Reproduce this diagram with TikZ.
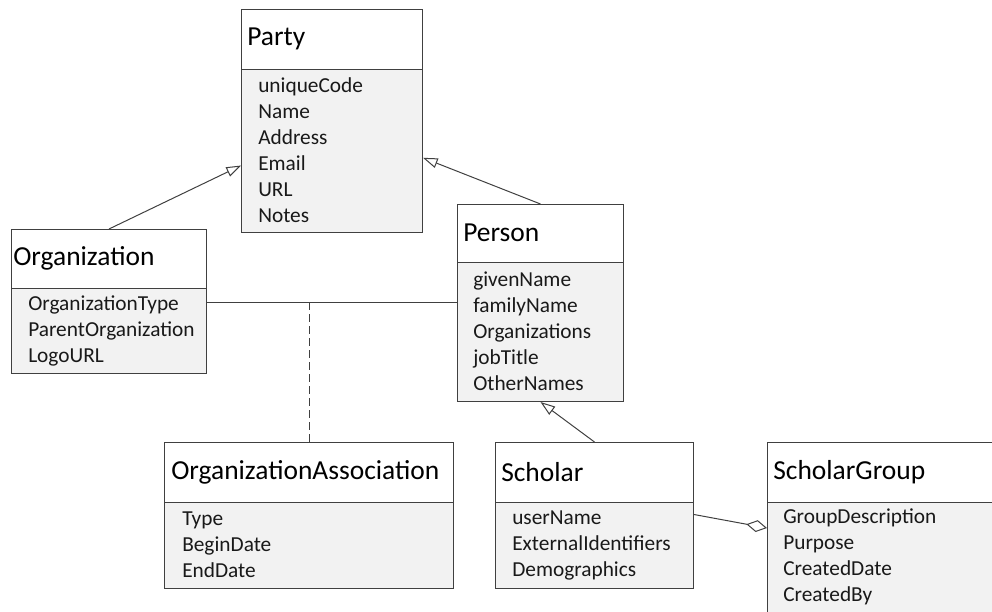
\documentclass[tikz,border=0pt]{standalone}
\usepackage{fontspec}
\setmainfont{Carlito}
\usetikzlibrary{arrows.meta}
\definecolor{linegray}{HTML}{404040}
\definecolor{bodyfill}{HTML}{F2F2F2}
\begin{document}
\begin{tikzpicture}[x=0.75pt,y=-0.75pt,
  boxT/.style={draw=linegray, line width=0.75pt, fill=white, anchor=north west, inner sep=0pt},
  boxB/.style={draw=linegray, line width=0.75pt, fill=bodyfill, anchor=north west, inner sep=0pt},
  titletxt/.style={anchor=west, inner sep=0pt, font=\fontsize{20.6pt}{24pt}\selectfont, text=black},
  bodytxt/.style={anchor=west, inner sep=0pt, align=left, font=\fontsize{16pt}{19.5pt}\selectfont, text=black!90},
  conn/.style={draw=linegray, line width=0.75pt},
  gen/.style={conn, -{Triangle[open, length=11pt, width=7.5pt]}},
  agg/.style={conn, -{Diamond[open, length=15.75pt, width=9pt]}}]
\useasboundingbox (0,0) rectangle (992,611);
\clip (0,0) rectangle (992,611);

% Party
\node[boxT, minimum width=135.75pt, minimum height=45pt] (partyT) at (241,9) {};
\node[boxB, minimum width=135.75pt, minimum height=122.25pt] (partyB) at (241,69) {};
\node[titletxt] (partyTt) at (247,39) {Party};
\node[bodytxt] (partyBt) at (258,150.5) {uniqueCode\\Name\\Address\\Email\\URL\\Notes};

% Organization
\node[boxT, minimum width=146.25pt, minimum height=44.25pt] (orgT) at (11,229) {};
\node[boxB, minimum width=146.25pt, minimum height=63.75pt] (orgB) at (11,288) {};
\node[titletxt] (orgTt) at (13,258.5) {Organization};
\node[bodytxt] (orgBt) at (28,330.5) {OrganizationType\\ParentOrganization\\LogoURL};

% Person
\node[boxT, minimum width=124.5pt, minimum height=43.5pt] (personT) at (457,204) {};
\node[boxB, minimum width=124.5pt, minimum height=104.25pt] (personB) at (457,262) {};
\node[titletxt] (personTt) at (463,233) {Person};
\node[bodytxt] (personBt) at (473,331.5) {givenName\\familyName\\Organizations\\jobTitle\\OtherNames};

% OrganizationAssociation
\node[boxT, minimum width=216.75pt, minimum height=45pt] (oaT) at (164,442) {};
\node[boxB, minimum width=216.75pt, minimum height=64.5pt] (oaB) at (164,502) {};
\node[titletxt] (oaTt) at (171,472) {OrganizationAssociation};
\node[bodytxt] (oaBt) at (182,545) {Type\\BeginDate\\EndDate};

% Scholar
\node[boxT, minimum width=148.5pt, minimum height=45pt] (scholarT) at (495,442) {};
\node[boxB, minimum width=148.5pt, minimum height=64.5pt] (scholarB) at (495,502) {};
\node[titletxt] (scholarTt) at (501,472) {Scholar};
\node[bodytxt] (scholarBt) at (512,545) {userName\\ExternalIdentifiers\\Demographics};

% ScholarGroup
\node[boxT, minimum width=195pt, minimum height=45pt] (sgT) at (767,442) {};
\node[boxB, minimum width=195pt, minimum height=82.5pt] (sgB) at (767,502) {};
\node[titletxt] (sgTt) at (773,472) {ScholarGroup};
\node[bodytxt] (sgBt) at (783,557) {GroupDescription\\Purpose\\CreatedDate\\CreatedBy};

% Connectors
\draw[gen] (orgT.north) -- ([yshift=-10.9pt]partyB.west);
\draw[gen] (personT.north) -- ([yshift=-5.1pt]partyB.east);
\draw[gen] (scholarT.north) -- (personB.south);
\coordinate (assocL) at ([yshift=-10.5pt]orgB.north east);
\draw[conn] (assocL) -- (assocL -| personB.west);
\draw[conn, dash pattern=on 6pt off 3pt] (assocL -| oaT.north) -- (oaT.north);
\draw[agg] ([yshift=23.25pt]scholarB.east) -- ([yshift=-19.5pt]sgB.north west);
\end{tikzpicture}
\end{document}
